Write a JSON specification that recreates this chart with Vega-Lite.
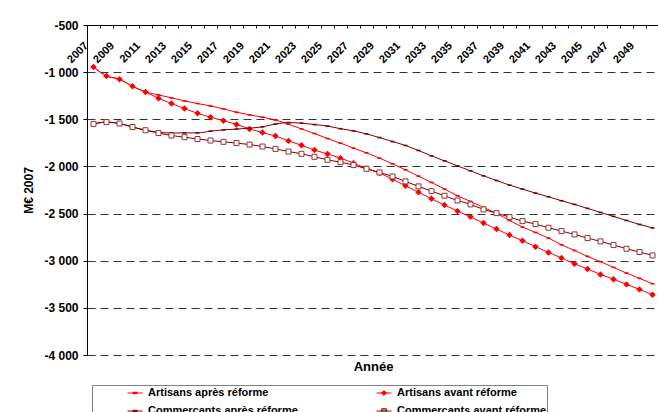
{
"$schema": "https://vega.github.io/schema/vega-lite/v6.json",
"width": 572, "height": 330,
"autosize": {"type": "none"},
"padding": {"left": 87, "top": 25, "right": 0, "bottom": 57},
"background": "white",
"config": {
  "view": {"stroke": null},
  "locale": {"number": {"decimal": ",", "thousands": " ", "grouping": [3], "currency": ["", " €"], "minus": "-"}},
  "axis": {"labelFont": "Liberation Sans", "titleFont": "Liberation Sans", "labelColor": "black", "titleColor": "black", "domainColor": "black", "tickColor": "black"}
},
"data": {"values": [
{"year":2007,"s":"AP","v":-945},{"year":2008,"s":"AP","v":-1040},{"year":2009,"s":"AP","v":-1075},{"year":2010,"s":"AP","v":-1150},{"year":2011,"s":"AP","v":-1210},{"year":2012,"s":"AP","v":-1241},{"year":2013,"s":"AP","v":-1273},{"year":2014,"s":"AP","v":-1305},{"year":2015,"s":"AP","v":-1333},{"year":2016,"s":"AP","v":-1358},{"year":2017,"s":"AP","v":-1390},{"year":2018,"s":"AP","v":-1425},{"year":2019,"s":"AP","v":-1453},{"year":2020,"s":"AP","v":-1478},{"year":2021,"s":"AP","v":-1508},{"year":2022,"s":"AP","v":-1552},{"year":2023,"s":"AP","v":-1602},{"year":2024,"s":"AP","v":-1651},{"year":2025,"s":"AP","v":-1704},{"year":2026,"s":"AP","v":-1753},{"year":2027,"s":"AP","v":-1806},{"year":2028,"s":"AP","v":-1856},{"year":2029,"s":"AP","v":-1912},{"year":2030,"s":"AP","v":-1972},{"year":2031,"s":"AP","v":-2036},{"year":2032,"s":"AP","v":-2103},{"year":2033,"s":"AP","v":-2170},{"year":2034,"s":"AP","v":-2240},{"year":2035,"s":"AP","v":-2311},{"year":2036,"s":"AP","v":-2371},{"year":2037,"s":"AP","v":-2434},{"year":2038,"s":"AP","v":-2498},{"year":2039,"s":"AP","v":-2573},{"year":2040,"s":"AP","v":-2643},{"year":2041,"s":"AP","v":-2700},{"year":2042,"s":"AP","v":-2760},{"year":2043,"s":"AP","v":-2831},{"year":2044,"s":"AP","v":-2891},{"year":2045,"s":"AP","v":-2954},{"year":2046,"s":"AP","v":-3010},{"year":2047,"s":"AP","v":-3071},{"year":2048,"s":"AP","v":-3131},{"year":2049,"s":"AP","v":-3187},{"year":2050,"s":"AP","v":-3244},
{"year":2007,"s":"AV","v":-945},{"year":2008,"s":"AV","v":-1040},{"year":2009,"s":"AV","v":-1075},{"year":2010,"s":"AV","v":-1150},{"year":2011,"s":"AV","v":-1210},{"year":2012,"s":"AV","v":-1277},{"year":2013,"s":"AV","v":-1333},{"year":2014,"s":"AV","v":-1386},{"year":2015,"s":"AV","v":-1436},{"year":2016,"s":"AV","v":-1478},{"year":2017,"s":"AV","v":-1515},{"year":2018,"s":"AV","v":-1555},{"year":2019,"s":"AV","v":-1602},{"year":2020,"s":"AV","v":-1641},{"year":2021,"s":"AV","v":-1678},{"year":2022,"s":"AV","v":-1729},{"year":2023,"s":"AV","v":-1776},{"year":2024,"s":"AV","v":-1826},{"year":2025,"s":"AV","v":-1868},{"year":2026,"s":"AV","v":-1912},{"year":2027,"s":"AV","v":-1965},{"year":2028,"s":"AV","v":-2022},{"year":2029,"s":"AV","v":-2071},{"year":2030,"s":"AV","v":-2135},{"year":2031,"s":"AV","v":-2206},{"year":2032,"s":"AV","v":-2273},{"year":2033,"s":"AV","v":-2343},{"year":2034,"s":"AV","v":-2410},{"year":2035,"s":"AV","v":-2474},{"year":2036,"s":"AV","v":-2535},{"year":2037,"s":"AV","v":-2601},{"year":2038,"s":"AV","v":-2664},{"year":2039,"s":"AV","v":-2728},{"year":2040,"s":"AV","v":-2788},{"year":2041,"s":"AV","v":-2852},{"year":2042,"s":"AV","v":-2912},{"year":2043,"s":"AV","v":-2971},{"year":2044,"s":"AV","v":-3032},{"year":2045,"s":"AV","v":-3088},{"year":2046,"s":"AV","v":-3145},{"year":2047,"s":"AV","v":-3196},{"year":2048,"s":"AV","v":-3251},{"year":2049,"s":"AV","v":-3304},{"year":2050,"s":"AV","v":-3360},
{"year":2007,"s":"CP","v":-1549},{"year":2008,"s":"CP","v":-1530},{"year":2009,"s":"CP","v":-1545},{"year":2010,"s":"CP","v":-1582},{"year":2011,"s":"CP","v":-1616},{"year":2012,"s":"CP","v":-1637},{"year":2013,"s":"CP","v":-1646},{"year":2014,"s":"CP","v":-1644},{"year":2015,"s":"CP","v":-1644},{"year":2016,"s":"CP","v":-1626},{"year":2017,"s":"CP","v":-1612},{"year":2018,"s":"CP","v":-1604},{"year":2019,"s":"CP","v":-1594},{"year":2020,"s":"CP","v":-1580},{"year":2021,"s":"CP","v":-1550},{"year":2022,"s":"CP","v":-1535},{"year":2023,"s":"CP","v":-1541},{"year":2024,"s":"CP","v":-1556},{"year":2025,"s":"CP","v":-1572},{"year":2026,"s":"CP","v":-1600},{"year":2027,"s":"CP","v":-1623},{"year":2028,"s":"CP","v":-1655},{"year":2029,"s":"CP","v":-1694},{"year":2030,"s":"CP","v":-1736},{"year":2031,"s":"CP","v":-1778},{"year":2032,"s":"CP","v":-1831},{"year":2033,"s":"CP","v":-1888},{"year":2034,"s":"CP","v":-1941},{"year":2035,"s":"CP","v":-1994},{"year":2036,"s":"CP","v":-2047},{"year":2037,"s":"CP","v":-2100},{"year":2038,"s":"CP","v":-2149},{"year":2039,"s":"CP","v":-2198},{"year":2040,"s":"CP","v":-2241},{"year":2041,"s":"CP","v":-2283},{"year":2042,"s":"CP","v":-2322},{"year":2043,"s":"CP","v":-2364},{"year":2044,"s":"CP","v":-2403},{"year":2045,"s":"CP","v":-2445},{"year":2046,"s":"CP","v":-2488},{"year":2047,"s":"CP","v":-2530},{"year":2048,"s":"CP","v":-2573},{"year":2049,"s":"CP","v":-2615},{"year":2050,"s":"CP","v":-2652},
{"year":2007,"s":"CV","v":-1549},{"year":2008,"s":"CV","v":-1530},{"year":2009,"s":"CV","v":-1545},{"year":2010,"s":"CV","v":-1582},{"year":2011,"s":"CV","v":-1616},{"year":2012,"s":"CV","v":-1646},{"year":2013,"s":"CV","v":-1672},{"year":2014,"s":"CV","v":-1690},{"year":2015,"s":"CV","v":-1709},{"year":2016,"s":"CV","v":-1725},{"year":2017,"s":"CV","v":-1739},{"year":2018,"s":"CV","v":-1752},{"year":2019,"s":"CV","v":-1768},{"year":2020,"s":"CV","v":-1789},{"year":2021,"s":"CV","v":-1814},{"year":2022,"s":"CV","v":-1842},{"year":2023,"s":"CV","v":-1866},{"year":2024,"s":"CV","v":-1898},{"year":2025,"s":"CV","v":-1930},{"year":2026,"s":"CV","v":-1955},{"year":2027,"s":"CV","v":-1986},{"year":2028,"s":"CV","v":-2025},{"year":2029,"s":"CV","v":-2064},{"year":2030,"s":"CV","v":-2106},{"year":2031,"s":"CV","v":-2159},{"year":2032,"s":"CV","v":-2212},{"year":2033,"s":"CV","v":-2262},{"year":2034,"s":"CV","v":-2311},{"year":2035,"s":"CV","v":-2361},{"year":2036,"s":"CV","v":-2403},{"year":2037,"s":"CV","v":-2456},{"year":2038,"s":"CV","v":-2495},{"year":2039,"s":"CV","v":-2537},{"year":2040,"s":"CV","v":-2580},{"year":2041,"s":"CV","v":-2612},{"year":2042,"s":"CV","v":-2650},{"year":2043,"s":"CV","v":-2686},{"year":2044,"s":"CV","v":-2721},{"year":2045,"s":"CV","v":-2760},{"year":2046,"s":"CV","v":-2795},{"year":2047,"s":"CV","v":-2834},{"year":2048,"s":"CV","v":-2873},{"year":2049,"s":"CV","v":-2908},{"year":2050,"s":"CV","v":-2944}
]},
"encoding": {
  "y": {"field": "v", "type": "quantitative",
    "scale": {"domain": [-4000, -500], "nice": false, "zero": false},
    "axis": {"values": [-500, -1000, -1500, -2000, -2500, -3000, -3500, -4000], "format": ",d", "title": "M€ 2007", "titleFontSize": 12, "titleFontWeight": "bold", "titlePadding": 8, "labelFontSize": 12, "labelFontWeight": "bold", "labelPadding": 5, "tickSize": 4, "grid": true, "gridColor": "#333333", "gridDash": [8, 5], "gridWidth": 1}}
},
"resolve": {"axis": {"x": "independent"}},
"layer": [
  {"mark": {"type": "line", "interpolate": "monotone", "strokeWidth": 1},
   "encoding": {
     "x": {"field": "year", "type": "ordinal", "scale": {"type": "band", "paddingInner": 0, "paddingOuter": 0},
       "axis": {"orient": "bottom", "offset": -330, "title": null, "tickBand": "extent", "tickSize": 3, "labels": false, "grid": false}},
     "color": {"field": "s", "type": "nominal", "scale": {"domain": ["AP", "CP", "AV", "CV"], "range": ["#ff0000", "#800000", "#ff0000", "#800000"]},
     "legend": {"title": null, "orient": "none", "legendX": 5, "legendY": 360, "columns": 2, "columnPadding": 43, "rowPadding": 5, "padding": 0, "symbolOffset": 35, "labelOffset": 5, "symbolSize": 225, "strokeColor": "#808080",
       "labelFont": "Liberation Sans", "labelFontSize": 11, "labelFontWeight": "bold", "labelColor": "black",
       "labelExpr": "datum.label == 'AP' ? 'Artisans après réforme' : datum.label == 'AV' ? 'Artisans avant réforme\u00a0\u00a0\u00a0\u00a0\u00a0\u00a0\u00a0\u00a0\u00a0\u00a0\u00a0\u00a0\u00a0\u00a0\u00a0\u00a0\u00a0\u00a0\u00a0\u00a0\u00a0\u00a0\u00a0\u00a0\u00a0\u00a0\u00a0\u00a0\u00a0\u00a0\u00a0\u00a0\u00a0\u00a0\u00a0\u00a0\u00a0\u00a0\u00a0\u00a0' : datum.label == 'CP' ? 'Commercants après réforme' : 'Commercants avant réforme\u00a0\u00a0\u00a0\u00a0\u00a0\u00a0\u00a0\u00a0\u00a0\u00a0\u00a0\u00a0\u00a0\u00a0\u00a0\u00a0\u00a0\u00a0\u00a0\u00a0\u00a0\u00a0\u00a0\u00a0\u00a0\u00a0\u00a0\u00a0\u00a0\u00a0\u00a0\u00a0\u00a0\u00a0\u00a0\u00a0\u00a0\u00a0\u00a0\u00a0'",
       "encode": {"symbols": {"update": {
         "shape": {"signal": "datum.value == 'AV' ? 'M-1,0H1M-0.33,0L0,-0.33L0.33,0L0,0.33Z' : datum.value == 'CV' ? 'M-1,0H1M-0.3,-0.3H0.3V0.3H-0.3Z' : 'M-1,0H1M-0.27,-0.1H0.27V0.1H-0.27Z'"},
         "fill": {"signal": "datum.value == 'CV' ? '#d8a8a8' : datum.value == 'CP' ? '#800000' : '#ff0000'"},
         "stroke": {"signal": "datum.value == 'CV' ? '#993333' : datum.value == 'CP' ? '#800000' : '#ff0000'"},
         "strokeWidth": {"value": 1}, "opacity": {"value": 1}, "size": {"value": 225}}}}}}}},
  {"transform": [{"filter": "datum.s == 'AP'"}],
   "mark": {"type": "point", "shape": "M-1,-0.4H1V0.4H-1Z", "size": 16, "filled": true, "color": "#ff0000", "opacity": 1},
   "encoding": {"x": {"field": "year", "type": "ordinal", "axis": null}}},
  {"transform": [{"filter": "datum.s == 'AV'"}],
   "mark": {"type": "point", "shape": "diamond", "size": 42, "filled": true, "color": "#ff0000", "opacity": 1},
   "encoding": {"x": {"field": "year", "type": "ordinal", "axis": null}}},
  {"transform": [{"filter": "datum.s == 'CP'"}],
   "mark": {"type": "point", "shape": "M-1,-0.4H1V0.4H-1Z", "size": 16, "filled": true, "color": "#800000", "opacity": 1},
   "encoding": {"x": {"field": "year", "type": "ordinal", "axis": null}}},
  {"transform": [{"filter": "datum.s == 'CV'"}],
   "mark": {"type": "point", "shape": "square", "size": 25, "filled": true, "fill": "#ffffff", "stroke": "#993333", "strokeWidth": 1, "opacity": 1},
   "encoding": {"x": {"field": "year", "type": "ordinal",
     "axis": {"orient": "bottom", "title": "Année", "titleFont": "Liberation Sans", "titleFontSize": 13, "titleFontWeight": "bold", "titlePadding": 5, "labels": false, "ticks": false, "domain": false, "grid": false}}}},
  {"transform": [{"filter": "datum.s == 'AP' && datum.year % 2 == 1"}],
   "mark": {"type": "text", "angle": 315, "align": "right", "baseline": "top", "xOffset": -11, "yOffset": 15, "font": "Liberation Sans", "fontSize": 11, "fontWeight": "bold", "color": "black"},
   "encoding": {"x": {"field": "year", "type": "ordinal", "axis": null},
     "y": {"datum": -500, "type": "quantitative", "axis": {"values": [-500, -1000, -1500, -2000, -2500, -3000, -3500, -4000], "format": ",d", "title": "M€ 2007", "titleFontSize": 12, "titleFontWeight": "bold", "titlePadding": 8, "labelFontSize": 12, "labelFontWeight": "bold", "labelPadding": 5, "tickSize": 4, "grid": true, "gridColor": "#333333", "gridDash": [8, 5], "gridWidth": 1}},
     "text": {"field": "year", "type": "nominal"}}}
]
}
